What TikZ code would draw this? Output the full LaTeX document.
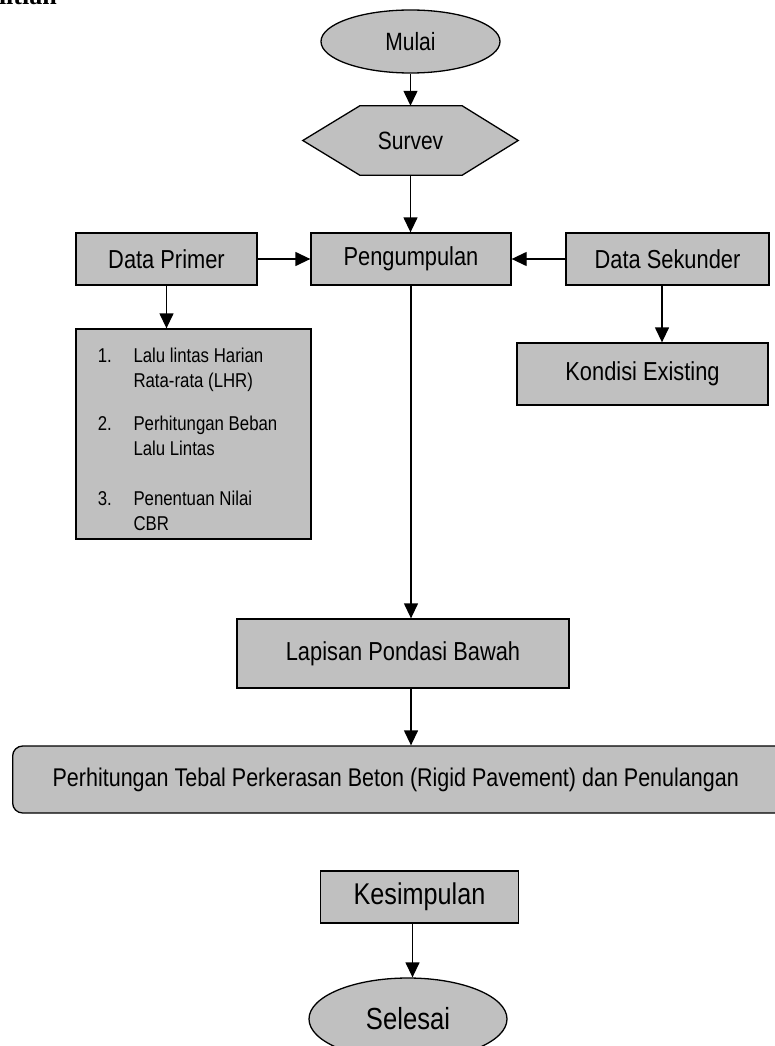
\documentclass[tikz,border=0pt]{standalone}
\usepackage{fontspec}
\setmainfont{Liberation Sans}[FakeStretch=0.84]
\newfontfamily\headfont{Liberation Serif}
\usetikzlibrary{shapes.geometric,arrows.meta,backgrounds}
\definecolor{boxgray}{RGB}{192,192,192}
\tikzset{
  boxfill/.style={draw=black, fill=boxgray, line width=1.3pt},
  procbox/.style={boxfill, rectangle, inner sep=0pt, font=\fontsize{26}{30}\selectfont},
  termin/.style={boxfill, ellipse, inner sep=0pt},
  flow/.style={line width=1.3pt, -{Triangle[length=15pt,width=14pt]}},
}
\begin{document}
\begin{tikzpicture}[x=1pt,y=-1pt]
\useasboundingbox (0,0) rectangle (775,1046);
% partial heading at top-left
\node[anchor=base east, inner sep=0pt, font=\headfont\bfseries\fontsize{26}{30}\selectfont] (head) at (57,5) {Penelitian};
% Mulai
\node[termin, minimum width=179pt, minimum height=63pt, font=\fontsize{25}{30}\selectfont] (mulai) at (410.5,41.5) {Mulai};
% Survev hexagon
\node[minimum width=215pt, minimum height=69pt, inner sep=0pt, font=\fontsize{25}{30}\selectfont] (survev) at (410.5,140.5) {Survev};
\begin{scope}[on background layer]
\filldraw[boxfill] (survev.west) -- ([xshift=57pt]survev.north west) -- ([xshift=-56pt]survev.north east) -- (survev.east) -- ([xshift=-56pt]survev.south east) -- ([xshift=57pt]survev.south west) -- cycle;
\end{scope}
% top row
\node[procbox, minimum width=181pt, minimum height=52pt] (primer) at (166.5,259) {Data Primer};
\node[procbox, minimum width=200pt, minimum height=52pt] (kumpul) at (411,259) {Pengumpulan};
\node[procbox, minimum width=203pt, minimum height=52pt] (sekunder) at (667.5,259) {Data Sekunder};
% list box
\node[boxfill, rectangle, inner sep=0pt, minimum width=235pt, minimum height=210pt] (list) at (193.5,434) {};
\node[anchor=base west, inner sep=0pt, font=\fontsize{20}{25}\selectfont] (listtext) at (97.7,362) {%
\begin{tabular}[t]{@{}p{35.6pt}@{}l@{}}
1. & Lalu lintas Harian\\
   & Rata-rata (LHR)\\[18pt]
2. & Perhitungan Beban\\
   & Lalu Lintas\\[25pt]
3. & Penentuan Nilai\\
   & CBR
\end{tabular}};
% Kondisi Existing
\node[procbox, minimum width=251pt, minimum height=62pt] (kondisi) at (642.5,374) {\raisebox{4pt}{Kondisi Existing}};
% Lapisan
\node[procbox, minimum width=332pt, minimum height=69pt] (lapisan) at (403,653.5) {Lapisan Pondasi Bawah};
% big rounded box
\node[procbox, rounded corners=10pt, minimum width=790pt, minimum height=67pt, anchor=west, font=\fontsize{25.6}{30}\selectfont] (hitung) at (12,779.5) {\makebox[790pt][l]{\hspace{40pt}Perhitungan Tebal Perkerasan Beton (Rigid Pavement) dan Penulangan}};
% Kesimpulan
\node[procbox, minimum width=198pt, minimum height=52pt, font=\fontsize{30}{34}\selectfont] (simpul) at (419.5,897) {\raisebox{-8pt}{Kesimpulan}};
% Selesai
\node[termin, minimum width=198pt, minimum height=82pt, font=\fontsize{30.5}{34}\selectfont] (selesai) at (408,1019) {Selesai};
% connectors
\draw[flow] (mulai) -- (survev.north);
\draw[flow] (survev.south) -- (kumpul.north -| survev.south);
\draw[flow] (primer) -- (kumpul);
\draw[flow] (sekunder) -- (kumpul);
\draw[flow] (primer) -- (list.north -| primer);
\draw[flow] (sekunder.south -| 662,0) -- (kondisi.north -| 662,0);
\draw[flow] (kumpul.south -| 411,0) -- (lapisan.north -| 411,0);
\draw[flow] (lapisan.south -| 411,0) -- (hitung.north -| 411,0);
\draw[flow] (simpul.south -| 412.5,0) -- (selesai.north -| 412.5,0);
\end{tikzpicture}
\end{document}
